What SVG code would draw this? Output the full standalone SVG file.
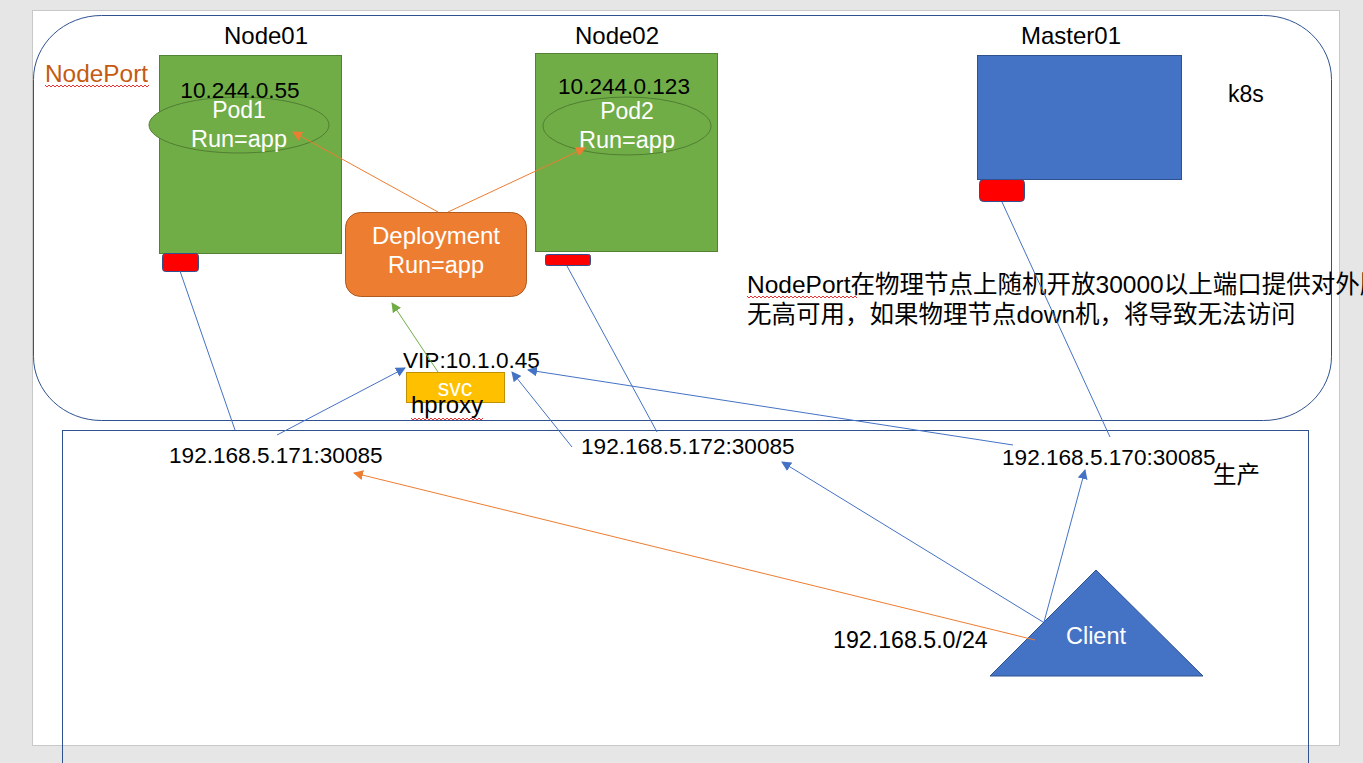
<svg xmlns="http://www.w3.org/2000/svg" width="1363" height="763" viewBox="0 0 1363 763">
<style>
text{font-family:"Liberation Sans","Noto Sans CJK SC",sans-serif;font-size:23px;fill:#000}
.w{fill:#fff}
.c{text-anchor:middle}
.lbl{font-size:24px}
.ip{font-size:22.6px}
.green{fill:#70ad47;stroke:#548235;stroke-width:1}
.pod{fill:#70ad47;stroke:#507e32;stroke-width:1}
.port{fill:#ff0000;stroke:#2f528f;stroke-width:1}
.blue{stroke:#4472c4;stroke-width:1;fill:none}
.orange{stroke:#ed7d31;stroke-width:1;fill:none}
.gr{stroke:#70ad47;stroke-width:1;fill:none}
.squig{stroke:#e00000;stroke-width:0.8;fill:none}
</style>
<defs>
<marker id="ab" viewBox="0 0 10 10" refX="9" refY="5" markerWidth="10" markerHeight="10" markerUnits="userSpaceOnUse" orient="auto"><path d="M0,0 L10,5 L0,10 z" fill="#4472c4"/></marker>
<marker id="ao" viewBox="0 0 10 10" refX="9" refY="5" markerWidth="10" markerHeight="10" markerUnits="userSpaceOnUse" orient="auto"><path d="M0,0 L10,5 L0,10 z" fill="#ed7d31"/></marker>
<marker id="ag" viewBox="0 0 10 10" refX="9" refY="5" markerWidth="10" markerHeight="10" markerUnits="userSpaceOnUse" orient="auto"><path d="M0,0 L10,5 L0,10 z" fill="#70ad47"/></marker>
</defs>
<rect x="0" y="0" width="1363" height="763" fill="#e6e6e6"/>
<rect x="32.5" y="10.5" width="1307" height="735" fill="#fff" stroke="#c8c8c8"/>

<g id="k8s">
<rect x="33.5" y="15.5" width="1298" height="405" rx="68" ry="64" fill="none" stroke="#2f528f" stroke-width="1"/>
<text x="1228" y="102">k8s</text>
<text x="45" y="82" style="fill:#c55a11;font-size:24.4px">NodePort</text>
<path class="squig" d="M45,85 l2,2 l2,-2 l2,2 l2,-2 l2,2 l2,-2 l2,2 l2,-2 l2,2 l2,-2 l2,2 l2,-2 l2,2 l2,-2 l2,2 l2,-2 l2,2 l2,-2 l2,2 l2,-2 l2,2 l2,-2 l2,2 l2,-2 l2,2 l2,-2 l2,2 l2,-2 l2,2 l2,-2 l2,2 l2,-2 l2,2 l2,-2 l2,2 l2,-2 l2,2 l2,-2 l2,2 l2,-2 l2,2 l2,-2 l2,2 l2,-2 l2,2 l2,-2 l2,2 l2,-2 l2,2 l2,-2 l2,2 l2,-2"/>
</g>

<g id="production">
<rect x="62.5" y="430.5" width="1246" height="360" fill="none" stroke="#2f528f" stroke-width="1"/>
<text x="1213" y="483" style="font-size:23.5px">生产</text>
<text x="833" y="648" style="font-size:23.2px">192.168.5.0/24</text>
</g>

<g id="note">
<text x="747" y="293" style="font-size:24.5px">NodePort在物理节点上随机开放30000以上端口提供对外服</text>
<text x="747" y="323" style="font-size:24.5px">无高可用，如果物理节点down机，将导致无法访问</text>
<path class="squig" d="M747,296 l2,2 l2,-2 l2,2 l2,-2 l2,2 l2,-2 l2,2 l2,-2 l2,2 l2,-2 l2,2 l2,-2 l2,2 l2,-2 l2,2 l2,-2 l2,2 l2,-2 l2,2 l2,-2 l2,2 l2,-2 l2,2 l2,-2 l2,2 l2,-2 l2,2 l2,-2 l2,2 l2,-2 l2,2 l2,-2 l2,2 l2,-2 l2,2 l2,-2 l2,2 l2,-2 l2,2 l2,-2 l2,2 l2,-2 l2,2 l2,-2 l2,2 l2,-2 l2,2 l2,-2 l2,2 l2,-2 l2,2 l2,-2 l2,2 l2,-2 l2,2"/>
</g>

<g id="node01">
<text class="c lbl" x="266" y="44">Node01</text>
<rect class="green" x="159.5" y="55.5" width="182" height="198"/>
<rect class="port" x="162.5" y="253.5" width="36" height="18" rx="3"/>
</g>
<g id="pod1">
<ellipse class="pod" cx="239" cy="125" rx="90" ry="28"/>
<text class="c ip" x="240" y="98">10.244.0.55</text>
<text class="c w" x="239" y="118">Pod1</text>
<text class="c w" x="239" y="147" style="font-size:23.5px">Run=app</text>
</g>

<g id="node02">
<text class="c lbl" x="617" y="44">Node02</text>
<rect class="green" x="535.5" y="53.5" width="182" height="198"/>
<rect class="port" x="545.5" y="254.5" width="45" height="11" rx="2"/>
</g>
<g id="pod2">
<ellipse class="pod" cx="627" cy="126" rx="84" ry="29"/>
<text class="c ip" x="624" y="94">10.244.0.123</text>
<text class="c w" x="627" y="119">Pod2</text>
<text class="c w" x="627" y="148" style="font-size:23.5px">Run=app</text>
</g>

<g id="master01">
<text class="c lbl" x="1071" y="44">Master01</text>
<rect x="977.5" y="55.5" width="204" height="124" fill="#4472c4" stroke="#2f528f"/>
<rect class="port" x="979.5" y="179.5" width="45" height="22" rx="4"/>
</g>

<g id="deployment">
<rect x="345.5" y="212.5" width="181" height="84" rx="15" fill="#ed7d31" stroke="#ae5a21"/>
<text class="c w lbl" x="436" y="244">Deployment</text>
<text class="c w" x="436" y="273" style="font-size:23.5px">Run=app</text>
</g>

<g id="svc">
<rect x="406.5" y="372.5" width="98" height="30" fill="#ffc000" stroke="#bf9000"/>
<text class="c w" x="455" y="396">svc</text>
<text x="403" y="368" class="ip">VIP:10.1.0.45</text>
<text x="411" y="413" class="lbl">hproxy</text>
<path class="squig" d="M411,418 l2,2 l2,-2 l2,2 l2,-2 l2,2 l2,-2 l2,2 l2,-2 l2,2 l2,-2 l2,2 l2,-2 l2,2 l2,-2 l2,2 l2,-2 l2,2 l2,-2 l2,2 l2,-2 l2,2 l2,-2 l2,2 l2,-2 l2,2 l2,-2 l2,2 l2,-2 l2,2 l2,-2 l2,2 l2,-2 l2,2 l2,-2 l2,2 l2,-2"/>
</g>

<g id="ip171"><text class="ip" x="169" y="463">192.168.5.171:30085</text></g>
<g id="ip172"><text class="ip" x="581" y="454">192.168.5.172:30085</text></g>
<g id="ip170"><text class="ip" x="1002" y="465">192.168.5.170:30085</text></g>

<g id="client">
<polygon points="1096,570 990,676 1203,676" fill="#4472c4" stroke="#2f528f"/>
<text class="c w" x="1096" y="644" style="font-size:23.5px">Client</text>
</g>

<g id="connectors">
<line class="orange" x1="438" y1="212" x2="293" y2="132" marker-end="url(#ao)"/>
<line class="orange" x1="448" y1="212" x2="585" y2="148" marker-end="url(#ao)"/>
<line class="gr" x1="438" y1="372" x2="392" y2="303" marker-end="url(#ag)"/>
<line class="blue" x1="180" y1="271" x2="235" y2="430"/>
<line class="blue" x1="567" y1="266" x2="657" y2="432"/>
<line class="blue" x1="1002" y1="202" x2="1110" y2="437"/>
<line class="blue" x1="277" y1="435" x2="405" y2="368" marker-end="url(#ab)"/>
<line class="blue" x1="572" y1="447" x2="512" y2="372" marker-end="url(#ab)"/>
<line class="blue" x1="1013" y1="445" x2="528" y2="370" marker-end="url(#ab)"/>
<line class="blue" x1="1044" y1="622" x2="1085" y2="470" marker-end="url(#ab)"/>
<line class="blue" x1="1043" y1="622" x2="782" y2="462" marker-end="url(#ab)"/>
<line class="orange" x1="1035" y1="640" x2="354" y2="473" marker-end="url(#ao)"/>
</g>
</svg>
